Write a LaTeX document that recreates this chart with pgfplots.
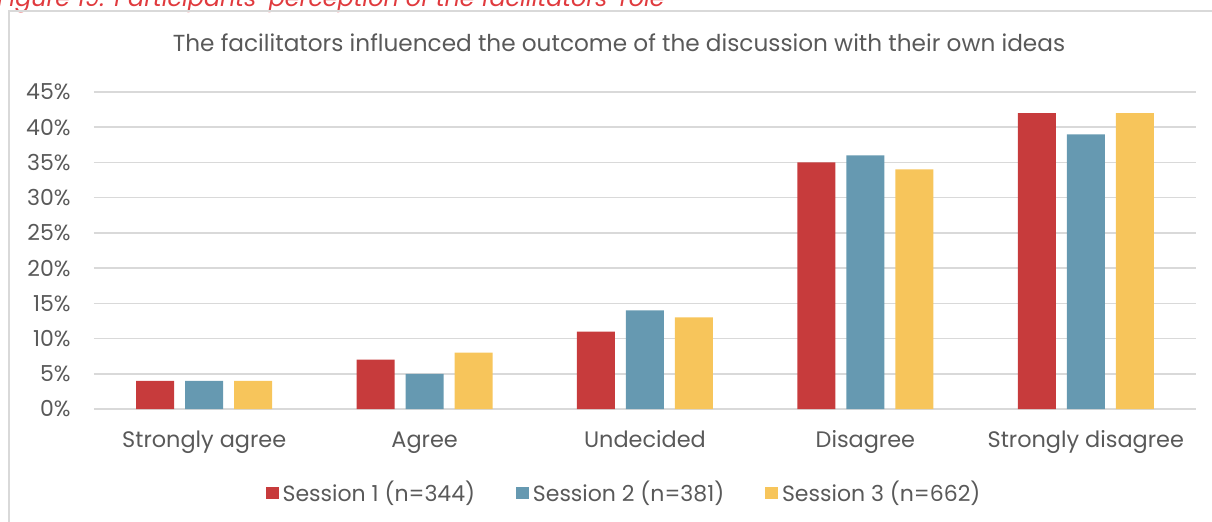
\documentclass[border=0pt]{standalone}
\usepackage{pgfplots}
\pgfplotsset{compat=1.18}
\usepackage{fontspec}
\setmainfont{Poppins}
\definecolor{sred}{HTML}{C73B3C}
\definecolor{sblue}{HTML}{6699B1}
\definecolor{syellow}{HTML}{F7C55B}
\definecolor{txt}{HTML}{595959}
\definecolor{gridc}{HTML}{D9D9D9}
\definecolor{capred}{HTML}{E03A3E}
\begin{document}
\begin{tikzpicture}
\useasboundingbox (0pt,0pt) rectangle (606pt,260.5pt);
\clip (0pt,0pt) rectangle (606pt,260.5pt);
% caption (partially cut, as in the reference)
\node[anchor=base west, inner sep=0pt, font=\fontsize{11.9}{14}\selectfont\itshape, text=capred] at (-1.5pt,257.5pt) {Figure 19: Participants' perception of the facilitators' role};
% frame
\draw[gridc, line width=0.75pt] (4.5pt,-5pt) -- (4.5pt,255pt) -- (615pt,255pt);
% title
\node[anchor=base, inner sep=0pt, font=\fontsize{11.6}{14}\selectfont, text=txt] at (309.5pt,234.5pt) {The facilitators influenced the outcome of the discussion with their own ideas};
\begin{axis}[
  at={(47pt,56pt)}, anchor=south west,
  scale only axis, width=551pt, height=158.5pt,
  xmin=-0.5, xmax=4.5, ymin=0, ymax=45,
  ybar=5.5pt, bar width=19pt,
  xtick={0,1,2,3,4},
  xticklabels={Strongly agree,Agree,Undecided,Disagree,Strongly disagree},
  ytick={0,5,...,45},
  yticklabels={0\%,5\%,10\%,15\%,20\%,25\%,30\%,35\%,40\%,45\%},
  ymajorgrids, major grid style={gridc, line width=0.75pt},
  axis line style={draw=none},
  tick style={draw=none}, major tick length=0pt,
  yticklabel style={inner sep=0pt, anchor=east, xshift=-11.5pt, font=\fontsize{11}{13}\selectfont, text=txt},
  xticklabel style={inner sep=0pt, anchor=base, yshift=-19pt, font=\fontsize{11.2}{13}\selectfont, text=txt},
  legend columns=3,
  legend style={at={(0.482,-0.265)}, anchor=center, draw=none, fill=none,
    font=\fontsize{11}{13}\selectfont, text=txt,
    /tikz/every even column/.append style={column sep=18.5pt}},
  legend image code/.code={\fill[#1] (0pt,-3.2pt) rectangle (6.4pt,3.2pt);},
]
\addplot[fill=sred, draw=none] coordinates {(0,4) (1,7) (2,11) (3,35) (4,42)};
\addplot[fill=sblue, draw=none] coordinates {(0,4) (1,5) (2,14) (3,36) (4,39)};
\addplot[fill=syellow, draw=none] coordinates {(0,4) (1,8) (2,13) (3,34) (4,42)};
\legend{Session 1 (n=344),Session 2 (n=381),Session 3 (n=662)}
\end{axis}
\end{tikzpicture}
\end{document}
